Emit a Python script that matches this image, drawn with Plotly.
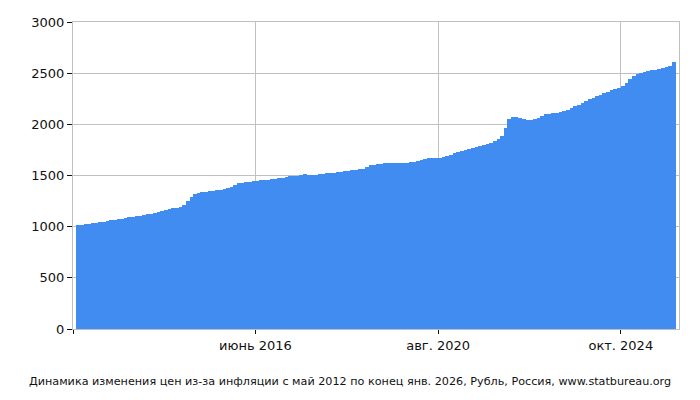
import pandas as pd
import plotly.graph_objects as go

# monthly index values, May 2012 .. Dec 2025 (1000 = start)
first_month = "2012-05-01"
values = [
    1012, 1016, 1028, 1030, 1035, 1040, 1044, 1049,  # 2012
    1058, 1064, 1068, 1073, 1079, 1086, 1095, 1096, 1100, 1106, 1112, 1119,  # 2013
    1128, 1137, 1148, 1157, 1167, 1174, 1180, 1184, 1192, 1212, 1250, 1292,  # 2014
    1318, 1328, 1335, 1341, 1346, 1350, 1358, 1363, 1370, 1378, 1390, 1408,  # 2015
    1422, 1430, 1435, 1440, 1444, 1449, 1453, 1455, 1458, 1463, 1468, 1474,  # 2016
    1480, 1485, 1492, 1496, 1500, 1506, 1512, 1506, 1504, 1506, 1510, 1516,  # 2017
    1520, 1524, 1528, 1533, 1537, 1542, 1547, 1549, 1554, 1560, 1567, 1585,  # 2018
    1600, 1607, 1612, 1616, 1620, 1622, 1625, 1621, 1618, 1620, 1625, 1630,  # 2019
    1636, 1641, 1650, 1662, 1667, 1670, 1675, 1675, 1676, 1688, 1705, 1722,  # 2020
    1732, 1742, 1753, 1762, 1773, 1781, 1792, 1798, 1806, 1820, 1838, 1860,  # 2021
    1885, 1965, 2050, 2068, 2070, 2062, 2052, 2044, 2046, 2050, 2062, 2085,  # 2022
    2097, 2103, 2108, 2113, 2118, 2128, 2140, 2158, 2175, 2192, 2210, 2228,  # 2023
    2246, 2262, 2275, 2288, 2302, 2318, 2335, 2345, 2356, 2372, 2405, 2440,  # 2024
    2470, 2490, 2503, 2512, 2520, 2527, 2535, 2542, 2548, 2558, 2570, 2605,  # 2025
]

tick_dates = ["2012-04-03", "2016-06-01", "2020-08-01", "2024-10-01"]
tick_labels = ["", "июнь 2016", "авг. 2020", "окт. 2024"]
x_range = ["2012-04-03", "2026-01-29"]
caption = "Динамика изменения цен из-за инфляции с май 2012 по конец янв. 2026, Рубль, Россия, www.statbureau.org"

months = pd.date_range(first_month, periods=len(values) + 1, freq="MS")
starts = months[:-1]
# each bar covers its whole calendar month
widths = [(b - a).total_seconds() * 1000 for a, b in zip(months[:-1], months[1:])]

font = "DejaVu Sans"
grid = "#c0c0c0"

fig = go.Figure()
fig.add_trace(go.Bar(x=starts, y=values, width=widths, offset=0,
                     marker_color="#418cf0", marker_line_width=0))

fig.update_layout(width=700, height=400, margin=dict(l=73, r=21, t=22, b=71),
                  plot_bgcolor="white", paper_bgcolor="white", bargap=0,
                  showlegend=False, font=dict(family=font, size=13, color="#111"))
fig.update_xaxes(type="date", range=x_range, tickvals=tick_dates, ticktext=tick_labels,
                 ticks="outside", ticklen=4, tickcolor="#111", showgrid=True, gridcolor=grid,
                 showline=True, linecolor=grid, mirror=True, zeroline=False,
                 tickfont=dict(size=13))
fig.update_yaxes(range=[0, 3000], dtick=500, ticks="outside", ticklen=5, tickcolor="#111",
                 showgrid=True, gridcolor=grid, showline=True, linecolor=grid, mirror=True,
                 zeroline=False, tickfont=dict(size=13))

fig.add_annotation(text=caption, xref="paper", yref="paper", x=0.457, y=-0.17,
                   xanchor="center", yanchor="middle", showarrow=False,
                   font=dict(family=font, size=11.2, color="#111"))

# drop the default 8px page margin so the figure fills the window
fig.write_html("out.html", config={"displayModeBar": False},
               post_script="document.body.style.margin='0px';")
